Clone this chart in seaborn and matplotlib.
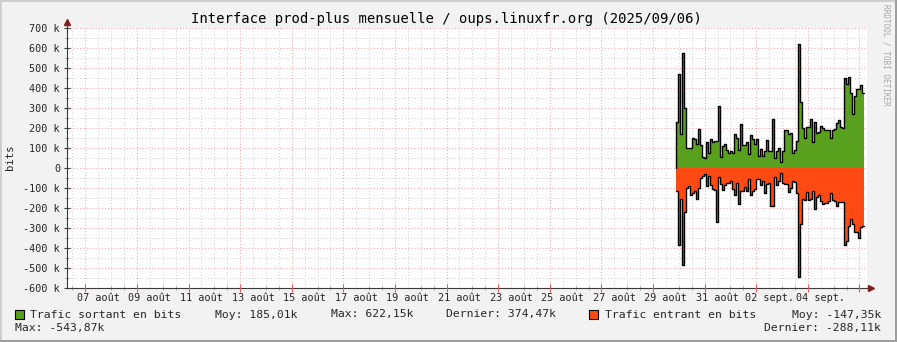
import numpy as np
import pandas as pd
import matplotlib
matplotlib.use("Agg")
import matplotlib.pyplot as plt
from matplotlib.patches import Rectangle
import seaborn as sns

# ---------------- data ----------------
title = "Interface prod-plus mensuelle / oups.linuxfr.org (2025/09/06)"
y_label = "bits"
watermark = "RRDTOOL / TOBI OETIKER"

x_start = "2025-08-06 07:00"
x_end = "2025-09-06 07:00"
data_start = "2025-08-29 21:00"
data_step = "112min"

# outgoing traffic (k bits), one value per consolidation step
out_k = [228, 468, 170, 573, 300, 102, 102, 100, 148, 145, 118, 195, 113, 57, 50,
         128, 75, 143, 130, 133, 133, 308, 55, 112, 118, 88, 75, 83, 75, 168,
         148, 88, 218, 113, 117, 132, 70, 163, 147, 122, 145, 60, 97, 60, 87,
         138, 85, 85, 243, 50, 85, 98, 30, 83, 188, 188, 168, 173, 73, 88,
         133, 618, 328, 200, 152, 203, 203, 243, 130, 228, 173, 180, 210, 202, 190,
         188, 188, 148, 190, 195, 223, 240, 203, 198, 448, 420, 457, 373, 268, 362,
         393, 393, 415, 374]
# incoming traffic (k bits, drawn negative)
in_k = [-117, -387, -153, -487, -218, -98, -88, -133, -123, -113, -157, -102, -52, -40, -32,
        -90, -40, -87, -103, -110, -268, -47, -80, -110, -83, -73, -77, -67, -103, -133,
        -73, -180, -113, -113, -93, -117, -57, -137, -113, -107, -53, -53, -83, -67, -127,
        -80, -77, -190, -190, -43, -87, -67, -27, -77, -80, -80, -120, -100, -63, -70,
        -127, -547, -280, -157, -160, -120, -160, -157, -113, -203, -143, -133, -163, -180, -177,
        -173, -163, -127, -160, -163, -190, -170, -170, -170, -383, -363, -290, -253, -280, -320,
        -320, -350, -293, -288]

y_ticks = [-600000, -500000, -400000, -300000, -200000, -100000, 0,
           100000, 200000, 300000, 400000, 500000, 600000, 700000]
y_tick_labels = ["-600 k", "-500 k", "-400 k", "-300 k", "-200 k", "-100 k", "0",
                 "100 k", "200 k", "300 k", "400 k", "500 k", "600 k", "700 k"]
x_label_days = ["2025-08-07", "2025-08-09", "2025-08-11", "2025-08-13", "2025-08-15",
                "2025-08-17", "2025-08-19", "2025-08-21", "2025-08-23", "2025-08-25",
                "2025-08-27", "2025-08-29", "2025-08-31", "2025-09-02", "2025-09-04"]
x_tick_labels = ["07 août", "09 août", "11 août", "13 août", "15 août", "17 août",
                 "19 août", "21 août", "23 août", "25 août", "27 août", "29 août",
                 "31 août", "02 sept.", "04 sept."]

series_names = ["Trafic sortant en bits", "Trafic entrant en bits"]
out_stats = ["Moy: 185,01k", "Max: 622,15k", "Dernier: 374,47k"]
in_stats = ["Moy: -147,35k", "Max: -543,87k", "Dernier: -288,11k"]

# ---------------- style ----------------
GREEN = "#58A01E"
ORANGE = "#FF4A14"
BG = "#F2F2F2"
GRID = "#D2D2D2"
MGRID = "#F2A8A8"
AXIS = "#3A3A3A"
ARROW = "#801F1F"
DOT = (0, (1, 2))

sns.set_theme(style="white")
plt.rcParams["font.family"] = ["DejaVu Sans Mono", "DejaVu Sans"]

W, H = 897, 342
fig = plt.figure(figsize=(W / 100, H / 100), dpi=100, facecolor=BG)
ax = fig.add_axes([67 / W, 1 - 288 / H, 800 / W, 260 / H])
ax.set_facecolor("white")

t0, t1 = pd.Timestamp(x_start), pd.Timestamp(x_end)
out_v = np.array(out_k, dtype=float) * 1000
in_v = np.array(in_k, dtype=float) * 1000
times = pd.date_range(data_start, periods=len(out_v) + 1, freq=data_step)

major_days = pd.date_range("2025-08-07", "2025-09-06", freq="2D")
half_days = pd.date_range(t0.ceil("12h"), t1, freq="12h")

# grid
for d in half_days:
    if d not in major_days:
        ax.axvline(d, color=GRID, lw=0.75, ls=DOT, zorder=0, snap=True)
for d in major_days:
    ax.axvline(d, color=MGRID, lw=0.75, ls=DOT, zorder=0.5, snap=True)
for v in np.arange(-550000, 700001, 100000):
    ax.axhline(v, color=GRID, lw=0.75, ls=DOT, zorder=0, snap=True)
for v in y_ticks[1:]:
    ax.axhline(v, color=MGRID, lw=0.75, ls=DOT, zorder=0.5, snap=True)

# areas
ax.fill_between(times, np.r_[out_v, out_v[-1]], 0, step="post", color=GREEN, lw=0, zorder=2)
ax.fill_between(times, np.r_[in_v, in_v[-1]], 0, step="post", color=ORANGE, lw=0, zorder=2)

# outlines via seaborn
out_line = pd.DataFrame({"t": list(times[:1]) + list(times),
                         "v": np.r_[0.0, out_v, out_v[-1]]})
in_line = pd.DataFrame({"t": list(times), "v": np.r_[in_v, in_v[-1]]})
sns.lineplot(data=out_line, x="t", y="v", estimator=None, sort=False, ax=ax,
             drawstyle="steps-post", color="black", linewidth=1.0, zorder=3)
sns.lineplot(data=in_line, x="t", y="v", estimator=None, sort=False, ax=ax,
             drawstyle="steps-post", color="black", linewidth=1.0, zorder=3)

ax.set_xlim(t0, t1)
ax.set_ylim(-600000, 700000)
ax.set_xlabel("")
ax.set_ylabel("")

# axes / spines
for s in ["top", "right"]:
    ax.spines[s].set_visible(False)
for s in ["left", "bottom"]:
    ax.spines[s].set_color(AXIS)
    ax.spines[s].set_linewidth(0.8)
    ax.spines[s].set_zorder(4)
ax.plot([0, 0], [1, 1.02], transform=ax.transAxes, color=AXIS, lw=0.8, clip_on=False)
ax.plot([1, 1.004], [0, 0], transform=ax.transAxes, color=AXIS, lw=0.8, clip_on=False)
ax.plot([0], [1.022], marker="^", ms=4.5, color=ARROW, transform=ax.transAxes, clip_on=False)
ax.plot([1.005], [0], marker=">", ms=4.5, color=ARROW, transform=ax.transAxes, clip_on=False)

# y ticks
ax.set_yticks(y_ticks)
ax.set_yticklabels(y_tick_labels)
ax.set_yticks(np.arange(-550000, 700001, 100000), minor=True)
ax.tick_params(axis="y", which="major", direction="inout", length=5, width=0.8,
               color=AXIS, labelsize=7.3, pad=2.5, left=True)
ax.tick_params(axis="y", which="minor", direction="inout", length=3, width=0.6,
               color="#888888", left=True)

# x ticks: labels at noon, marks every 12h (red at 2-day marks)
label_pos = [pd.Timestamp(d) + pd.Timedelta(hours=12) for d in x_label_days]
ax.set_xticks(label_pos)
ax.set_xticklabels(x_tick_labels)
ax.set_xticks(list(half_days), minor=True)
ax.tick_params(axis="x", which="major", length=0, labelsize=7.3, pad=3.5, bottom=True)
ax.tick_params(axis="x", which="minor", direction="inout", length=3, width=0.6,
               color="#999999", bottom=True)
for d in major_days:
    ax.plot([d], [-600000], marker="|", ms=6, mew=0.8, color="#E06060", clip_on=False, zorder=5)

# texts
fig.text(446.5 / W, 1 - 19 / H, title, ha="center", va="center", fontsize=10, color="black")
fig.text(10 / W, 1 - 157 / H, y_label, rotation=90, ha="center", va="center", fontsize=7.6)
fig.text(886 / W, 1 - 4 / H, watermark, rotation=270, ha="center", va="top",
         fontsize=5.6, color="#A8A8A8")

# legend
def box(x, color):
    fig.add_artist(Rectangle((x / W, 1 - 318.5 / H), 8.5 / W, 8.5 / H, transform=fig.transFigure,
                             facecolor=color, edgecolor="black", lw=0.8))

LS = 8.2
y1 = 1 - 314.5 / H
y2 = 1 - 328.5 / H
box(15, GREEN)
fig.text(30 / W, y1, series_names[0], ha="left", va="center", fontsize=LS)
fig.text(215 / W, y1, out_stats[0], ha="left", va="center", fontsize=LS)
fig.text(330.5 / W, y1, out_stats[1], ha="left", va="center", fontsize=LS)
fig.text(446 / W, y1, out_stats[2], ha="left", va="center", fontsize=LS)
box(589, ORANGE)
fig.text(604.5 / W, y1, series_names[1], ha="left", va="center", fontsize=LS)
fig.text(881 / W, y1, in_stats[0], ha="right", va="center", fontsize=LS)
fig.text(15 / W, y2, in_stats[1], ha="left", va="center", fontsize=LS)
fig.text(881 / W, y2, in_stats[2], ha="right", va="center", fontsize=LS)

# frame shading
fig.add_artist(Rectangle((0, 1 - 2 / H), 1, 2 / H, transform=fig.transFigure, color="#CFCFCF", lw=0))
fig.add_artist(Rectangle((0, 0), 2 / W, 1, transform=fig.transFigure, color="#CFCFCF", lw=0))
fig.add_artist(Rectangle((0, 0), 1, 2 / H, transform=fig.transFigure, color="#9E9E9E", lw=0))
fig.add_artist(Rectangle((1 - 2 / W, 0), 2 / W, 1, transform=fig.transFigure, color="#9E9E9E", lw=0))

fig.savefig("out.png", dpi=100, facecolor=BG)
